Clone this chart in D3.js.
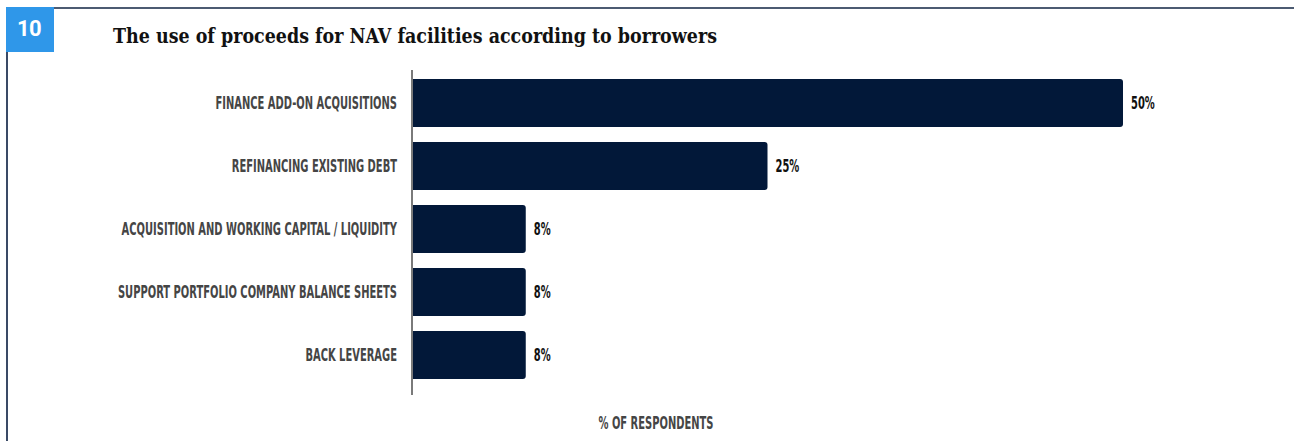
<!DOCTYPE html>
<html>
<head>
<meta charset="utf-8">
<script src="https://cdn.jsdelivr.net/npm/d3@7"></script>
<style>
  html, body { margin: 0; padding: 0; background: #fff; }
  svg { display: block; }
</style>
</head>
<body>
<svg id="chart" width="1294" height="441"></svg>
<script>
// Use of proceeds for NAV facilities (share of borrowers, %)
const categories = [
  "FINANCE ADD-ON ACQUISITIONS",
  "REFINANCING EXISTING DEBT",
  "ACQUISITION AND WORKING CAPITAL / LIQUIDITY",
  "SUPPORT PORTFOLIO COMPANY BALANCE SHEETS",
  "BACK LEVERAGE"
];
const values = [50, 25, 8, 8, 8];
const chartNumber = "10";
const chartTitle = "The use of proceeds for NAV facilities according to borrowers";
const axisTitle = "% OF RESPONDENTS";

const svg = d3.select("#chart");
const W = 1294, H = 441;

const condensed = "'Liberation Sans Narrow', 'DejaVu Sans Condensed', 'DejaVu Sans', sans-serif";

// frame: top rule and left rule
svg.append("line").attr("x1", 54).attr("x2", W).attr("y1", 8).attr("y2", 8)
  .attr("stroke", "#4c5b72").attr("stroke-width", 2);
svg.append("line").attr("x1", 7).attr("x2", 7).attr("y1", 7).attr("y2", H)
  .attr("stroke", "#3a4a66").attr("stroke-width", 2);

// chart number badge
svg.append("rect").attr("x", 6).attr("y", 7).attr("width", 48).attr("height", 45)
  .attr("fill", "#2f97e9");
svg.append("text").attr("x", 29).attr("y", 35.5).attr("text-anchor", "middle")
  .attr("font-family", "Roboto, 'Liberation Sans', sans-serif")
  .attr("font-weight", 700).attr("font-size", 22).attr("fill", "#fff")
  .attr("letter-spacing", -0.5)
  .text(chartNumber);

// title
svg.append("text").attr("x", 113).attr("y", 43)
  .attr("font-family", "'DejaVu Serif', 'Liberation Serif', serif")
  .attr("font-weight", 700).attr("font-size", 21).attr("fill", "#111")
  .attr("textLength", 604).attr("lengthAdjust", "spacingAndGlyphs")
  .text(chartTitle);

// scales
const x = d3.scaleLinear().domain([0, 50]).range([412, 1123]);
const y = d3.scaleBand().domain(categories).range([71.5, 386.5])
  .paddingInner(0.238).paddingOuter(0.119);

// bars with rounded right end
const r = 3;
function barPath(d, i) {
  const x0 = x(0), x1 = x(values[i]), y0 = y(d), h = y.bandwidth();
  return `M${x0},${y0}H${x1 - r}Q${x1},${y0} ${x1},${y0 + r}V${y0 + h - r}Q${x1},${y0 + h} ${x1 - r},${y0 + h}H${x0}Z`;
}
svg.append("g").selectAll("path").data(categories).join("path")
  .attr("d", barPath).attr("fill", "#021839");

// baseline
svg.append("line").attr("x1", x(0)).attr("x2", x(0)).attr("y1", 70).attr("y2", 395)
  .attr("stroke", "#7a7a7a").attr("stroke-width", 2);

// condensed caps labels
const sx = 0.65, fs = 17;

// category labels
svg.append("g").selectAll("text").data(categories).join("text")
  .attr("transform", d => `translate(397,${y(d) + y.bandwidth() / 2 + 6}) scale(${sx},1)`)
  .attr("text-anchor", "end")
  .attr("font-family", condensed).attr("font-weight", 700).attr("font-size", fs)
  .attr("fill", "#454545")
  .text(d => d);

// value labels
svg.append("g").selectAll("text").data(categories).join("text")
  .attr("transform", (d, i) => `translate(${x(values[i]) + 8},${y(d) + y.bandwidth() / 2 + 6}) scale(${sx},1)`)
  .attr("font-family", condensed).attr("font-weight", 700).attr("font-size", fs)
  .attr("fill", "#111")
  .text((d, i) => values[i] + "%");

// axis title
svg.append("text")
  .attr("transform", `translate(656,429) scale(${sx},1)`)
  .attr("text-anchor", "middle")
  .attr("font-family", condensed).attr("font-weight", 700).attr("font-size", fs)
  .attr("fill", "#454545")
  .text(axisTitle);
</script>
</body>
</html>
